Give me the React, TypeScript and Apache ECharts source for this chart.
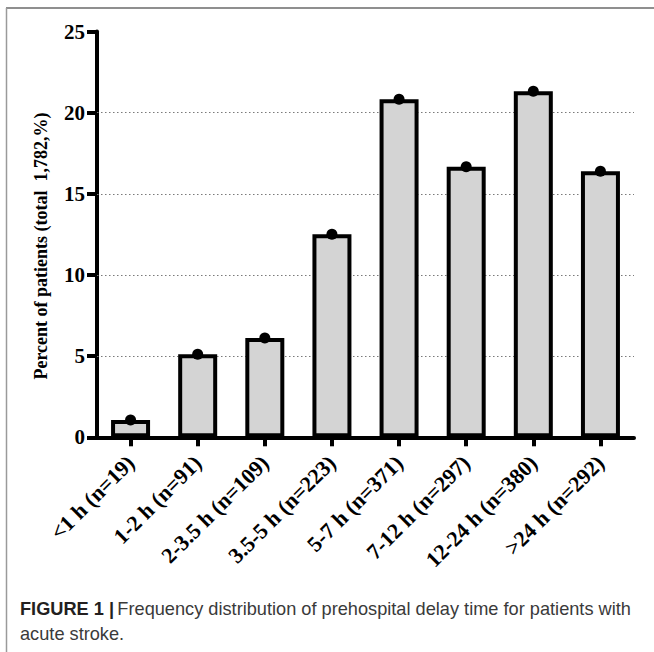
import React, { useEffect, useRef } from "react";
import * as echarts from "echarts";

const categories = [
  "<1 h (n=19)",
  "1-2 h (n=91)",
  "2-3.5 h (n=109)",
  "3.5-5 h (n=223)",
  "5-7 h (n=371)",
  "7-12 h (n=297)",
  "12-24 h (n=380)",
  ">24 h (n=292)",
];
const percentValues = [1.07, 5.11, 6.12, 12.51, 20.82, 16.67, 21.32, 16.39];
const gridLevels = [5, 10, 15, 20];
const yTitle = "Percent of patients (total  1,782,%)";
const captionBold = "FIGURE 1 |";
const captionLine1 = "Frequency distribution of prehospital delay time for patients with";
const captionLine2 = "acute stroke.";

const SERIF = "'Liberation Serif', 'Times New Roman', serif";
const SANS = "'Liberation Sans', Arial, sans-serif";

export default function App() {
  const ref = useRef<HTMLDivElement>(null);
  useEffect(() => {
    if (!ref.current) return;
    const chart = echarts.init(ref.current, undefined, { renderer: "svg" });
    chart.setOption({
      animation: false,
      backgroundColor: "#fff",
      grid: { left: 97, right: 20, top: 31.5, bottom: 214.7, containLabel: false },
      xAxis: {
        type: "category",
        data: categories,
        axisLine: { show: true, lineStyle: { color: "#000", width: 4 } },
        axisTick: { show: true, alignWithLabel: true, length: 9, lineStyle: { color: "#000", width: 4 } },
        axisLabel: {
          rotate: 45,
          margin: 22,
          color: "#000",
          fontFamily: SERIF,
          fontWeight: "bold",
          fontSize: 22,
        },
        splitLine: { show: false },
      },
      yAxis: {
        type: "value",
        min: 0,
        max: 25,
        interval: 5,
        axisLine: { show: true, lineStyle: { color: "#000", width: 4 } },
        axisTick: { show: true, length: 10, lineStyle: { color: "#000", width: 4 } },
        axisLabel: {
          margin: 12,
          color: "#000",
          fontFamily: SERIF,
          fontWeight: "bold",
          fontSize: 21,
        },
        splitLine: { show: false },
      },
      series: [
        {
          type: "bar",
          data: percentValues,
          barWidth: 39,
          itemStyle: { color: "#d4d4d4", borderColor: "#000", borderWidth: 4 },
          z: 2,
          markLine: {
            silent: true,
            symbol: "none",
            label: { show: false },
            lineStyle: { color: "#7a7a7a", type: [1.5, 2.5], width: 1.2 },
            data: gridLevels.map((v) => ({ yAxis: v })),
            z: 1,
          },
        },
        {
          type: "scatter",
          data: percentValues,
          symbol: "circle",
          symbolSize: 11,
          itemStyle: { color: "#000", opacity: 1 },
          z: 5,
        },
      ],
      graphic: [
        {
          type: "line",
          shape: { x1: 6, y1: 8, x2: 654, y2: 8 },
          style: { stroke: "#6a6a6a", lineWidth: 1.5 },
        },
        {
          type: "line",
          shape: { x1: 6.5, y1: 8, x2: 6.5, y2: 652 },
          style: { stroke: "#9a9a9a", lineWidth: 1.5 },
        },
        {
          type: "text",
          x: 41,
          y: 246,
          rotation: Math.PI / 2,
          style: {
            text: yTitle,
            fill: "#000",
            font: `bold 18px ${SERIF}`,
            align: "center",
            verticalAlign: "middle",
          },
        },
        {
          type: "text",
          x: 20,
          y: 609,
          style: {
            text: `{b|${captionBold}} {r|${captionLine1}}`,
            verticalAlign: "middle",
            rich: {
              b: { fontFamily: SANS, fontWeight: "bold", fontSize: 18.2, fill: "#231f20" },
              r: { fontFamily: SANS, fontSize: 18.2, fill: "#3a3a3a" },
            },
          },
        },
        {
          type: "text",
          x: 20,
          y: 634,
          style: {
            text: captionLine2,
            fill: "#3a3a3a",
            font: `18.2px ${SANS}`,
            verticalAlign: "middle",
          },
        },
      ],
    });
    return () => chart.dispose();
  }, []);
  return (
    <div
      ref={ref}
      style={{ position: "fixed", left: 0, top: 0, width: 654, height: 652 }}
    />
  );
}
